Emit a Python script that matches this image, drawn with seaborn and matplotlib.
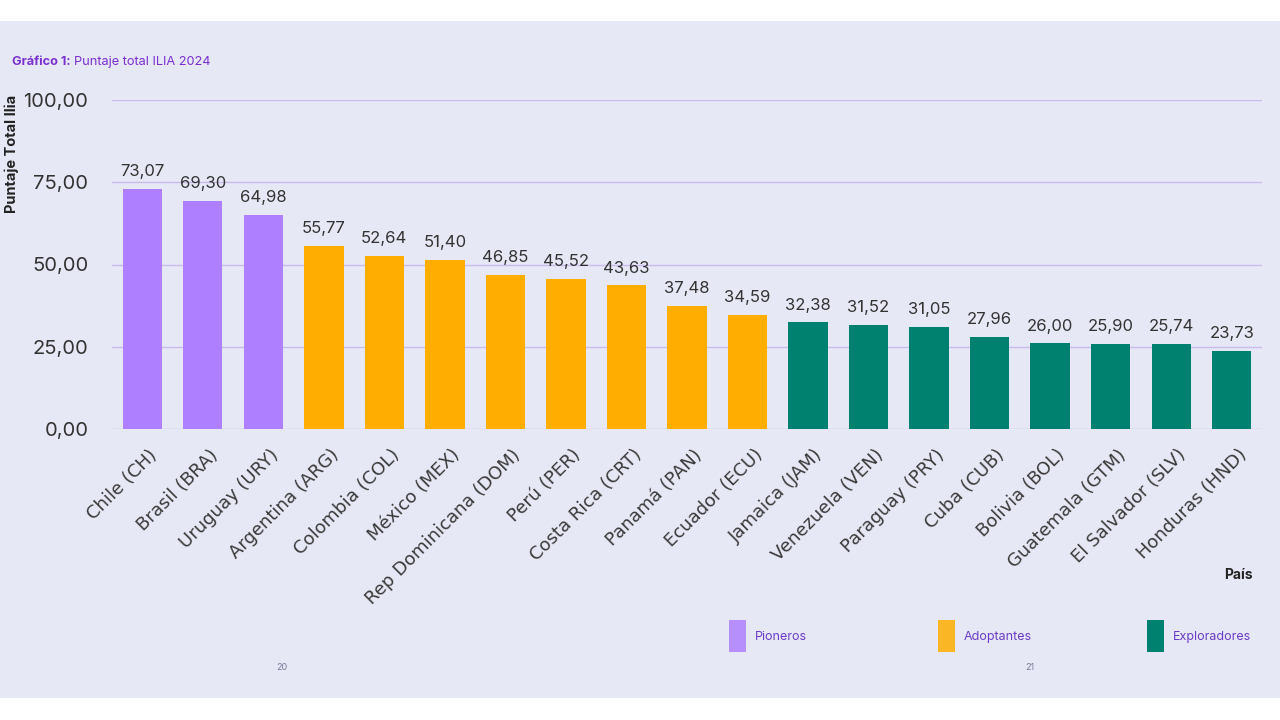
import matplotlib
matplotlib.use("Agg")
import matplotlib.pyplot as plt
import matplotlib.patches as mpatches
import matplotlib.transforms as mtransforms
import seaborn as sns
import pandas as pd

paises = ["Chile (CH)", "Brasil (BRA)", "Uruguay (URY)", "Argentina (ARG)", "Colombia (COL)",
          "México (MEX)", "Rep Dominicana (DOM)", "Perú (PER)", "Costa Rica (CRT)", "Panamá (PAN)",
          "Ecuador (ECU)", "Jamaica (JAM)", "Venezuela (VEN)", "Paraguay (PRY)", "Cuba (CUB)",
          "Bolivia (BOL)", "Guatemala (GTM)", "El Salvador (SLV)", "Honduras (HND)"]
puntajes = [73.07, 69.30, 64.98, 55.77, 52.64, 51.40, 46.85, 45.52, 43.63, 37.48,
            34.59, 32.38, 31.52, 31.05, 27.96, 26.00, 25.90, 25.74, 23.73]
grupos = ["Pioneros"] * 3 + ["Adoptantes"] * 8 + ["Exploradores"] * 8
categorias = ["Pioneros", "Adoptantes", "Exploradores"]
colores = ["#AE80FF", "#FFAE00", "#00806E"]
y_ticks = [0, 25, 50, 75, 100]

font = ["Inter", "DejaVu Sans"]
plt.rcParams["font.family"] = font

df = pd.DataFrame({"pais": paises, "puntaje": puntajes, "grupo": grupos})

fig = plt.figure(figsize=(12.8, 7.2), dpi=100)
fig.patch.set_facecolor("white")
bg = mpatches.Rectangle((0, 1 - 698 / 720), 1, (698 - 21) / 720, transform=fig.transFigure,
                        facecolor="#E7E8F5", edgecolor="none", zorder=-10)
fig.patches.append(bg)

ax = fig.add_axes([112 / 1280, 1 - 429 / 720, 1150 / 1280, 329 / 720])
ax.set_facecolor("none")

sns.barplot(data=df, x="pais", y="puntaje", hue="grupo", hue_order=categorias,
            palette=dict(zip(categorias, colores)), dodge=False, width=0.65,
            legend=False, ax=ax, zorder=3, saturation=1)

ax.set_xlim(-0.5, len(paises) - 0.5)
ax.set_ylim(0, 100)
ax.set_yticks(y_ticks)
ax.set_yticklabels([f"{v:.2f}".replace(".", ",") for v in y_ticks], fontsize=14.5, color="#333333")
ax.tick_params(axis="both", length=0)
ax.tick_params(axis="y", pad=17)
ax.grid(axis="y", color="#C9BCEB", linewidth=1, zorder=0)
ax.grid(axis="x", visible=False)
for s in ax.spines.values():
    s.set_visible(False)

ax.set_xticks(range(len(paises)))
labels = ax.set_xticklabels(paises, rotation=45, ha="right", rotation_mode="anchor",
                            fontsize=13, color="#3a3a3a", family=["DejaVu Sans"])
offset = mtransforms.ScaledTranslation(6 / 100, -12 / 100, fig.dpi_scale_trans)
for lab in labels:
    lab.set_transform(lab.get_transform() + offset)

for i, v in enumerate(puntajes):
    ax.text(i, v + 3, f"{v:.2f}".replace(".", ","), ha="center", va="bottom",
            fontsize=12, color="#333333")

ax.set_xlabel("")
ax.set_ylabel("")

fig.text(12 / 1280, 1 - 154 / 720, "Puntaje Total Ilia", rotation=90, ha="center", va="center",
         fontsize=10.5, fontweight="bold", color="#222222")
fig.text(1238 / 1280, 1 - 575 / 720, "País", ha="center", va="center",
         fontsize=10, fontweight="bold", color="#222222")

t1 = fig.text(12 / 1280, 1 - 62 / 720, "Gráfico 1:", ha="left", va="center",
              fontsize=9.2, fontweight="bold", color="#7A2FD0")
fig.canvas.draw()
bb = t1.get_window_extent()
fig.text(bb.x1 / 1280 + 3 / 1280, 1 - 62 / 720, "Puntaje total ILIA 2024", ha="left", va="center",
         fontsize=9.2, color="#7A2FD0")

leg_x = [729, 938, 1147]
for cat, col, lx in zip(categorias, colores, leg_x):
    p = mpatches.Rectangle((lx / 1280, 1 - 652 / 720), 17 / 1280, 32 / 720,
                           transform=fig.transFigure, facecolor=col, edgecolor="none",
                           alpha=0.85 if cat != "Exploradores" else 1)
    fig.patches.append(p)
    fig.text((lx + 26) / 1280, 1 - 637 / 720, cat, ha="left", va="center",
             fontsize=9, color="#6A3CC8")

fig.text(282 / 1280, 1 - 668 / 720, "20", ha="center", va="center", fontsize=6.5, color="#7A7A99")
fig.text(1030 / 1280, 1 - 668 / 720, "21", ha="center", va="center", fontsize=6.5, color="#7A7A99")

fig.savefig("out.png", dpi=100, facecolor="white")
